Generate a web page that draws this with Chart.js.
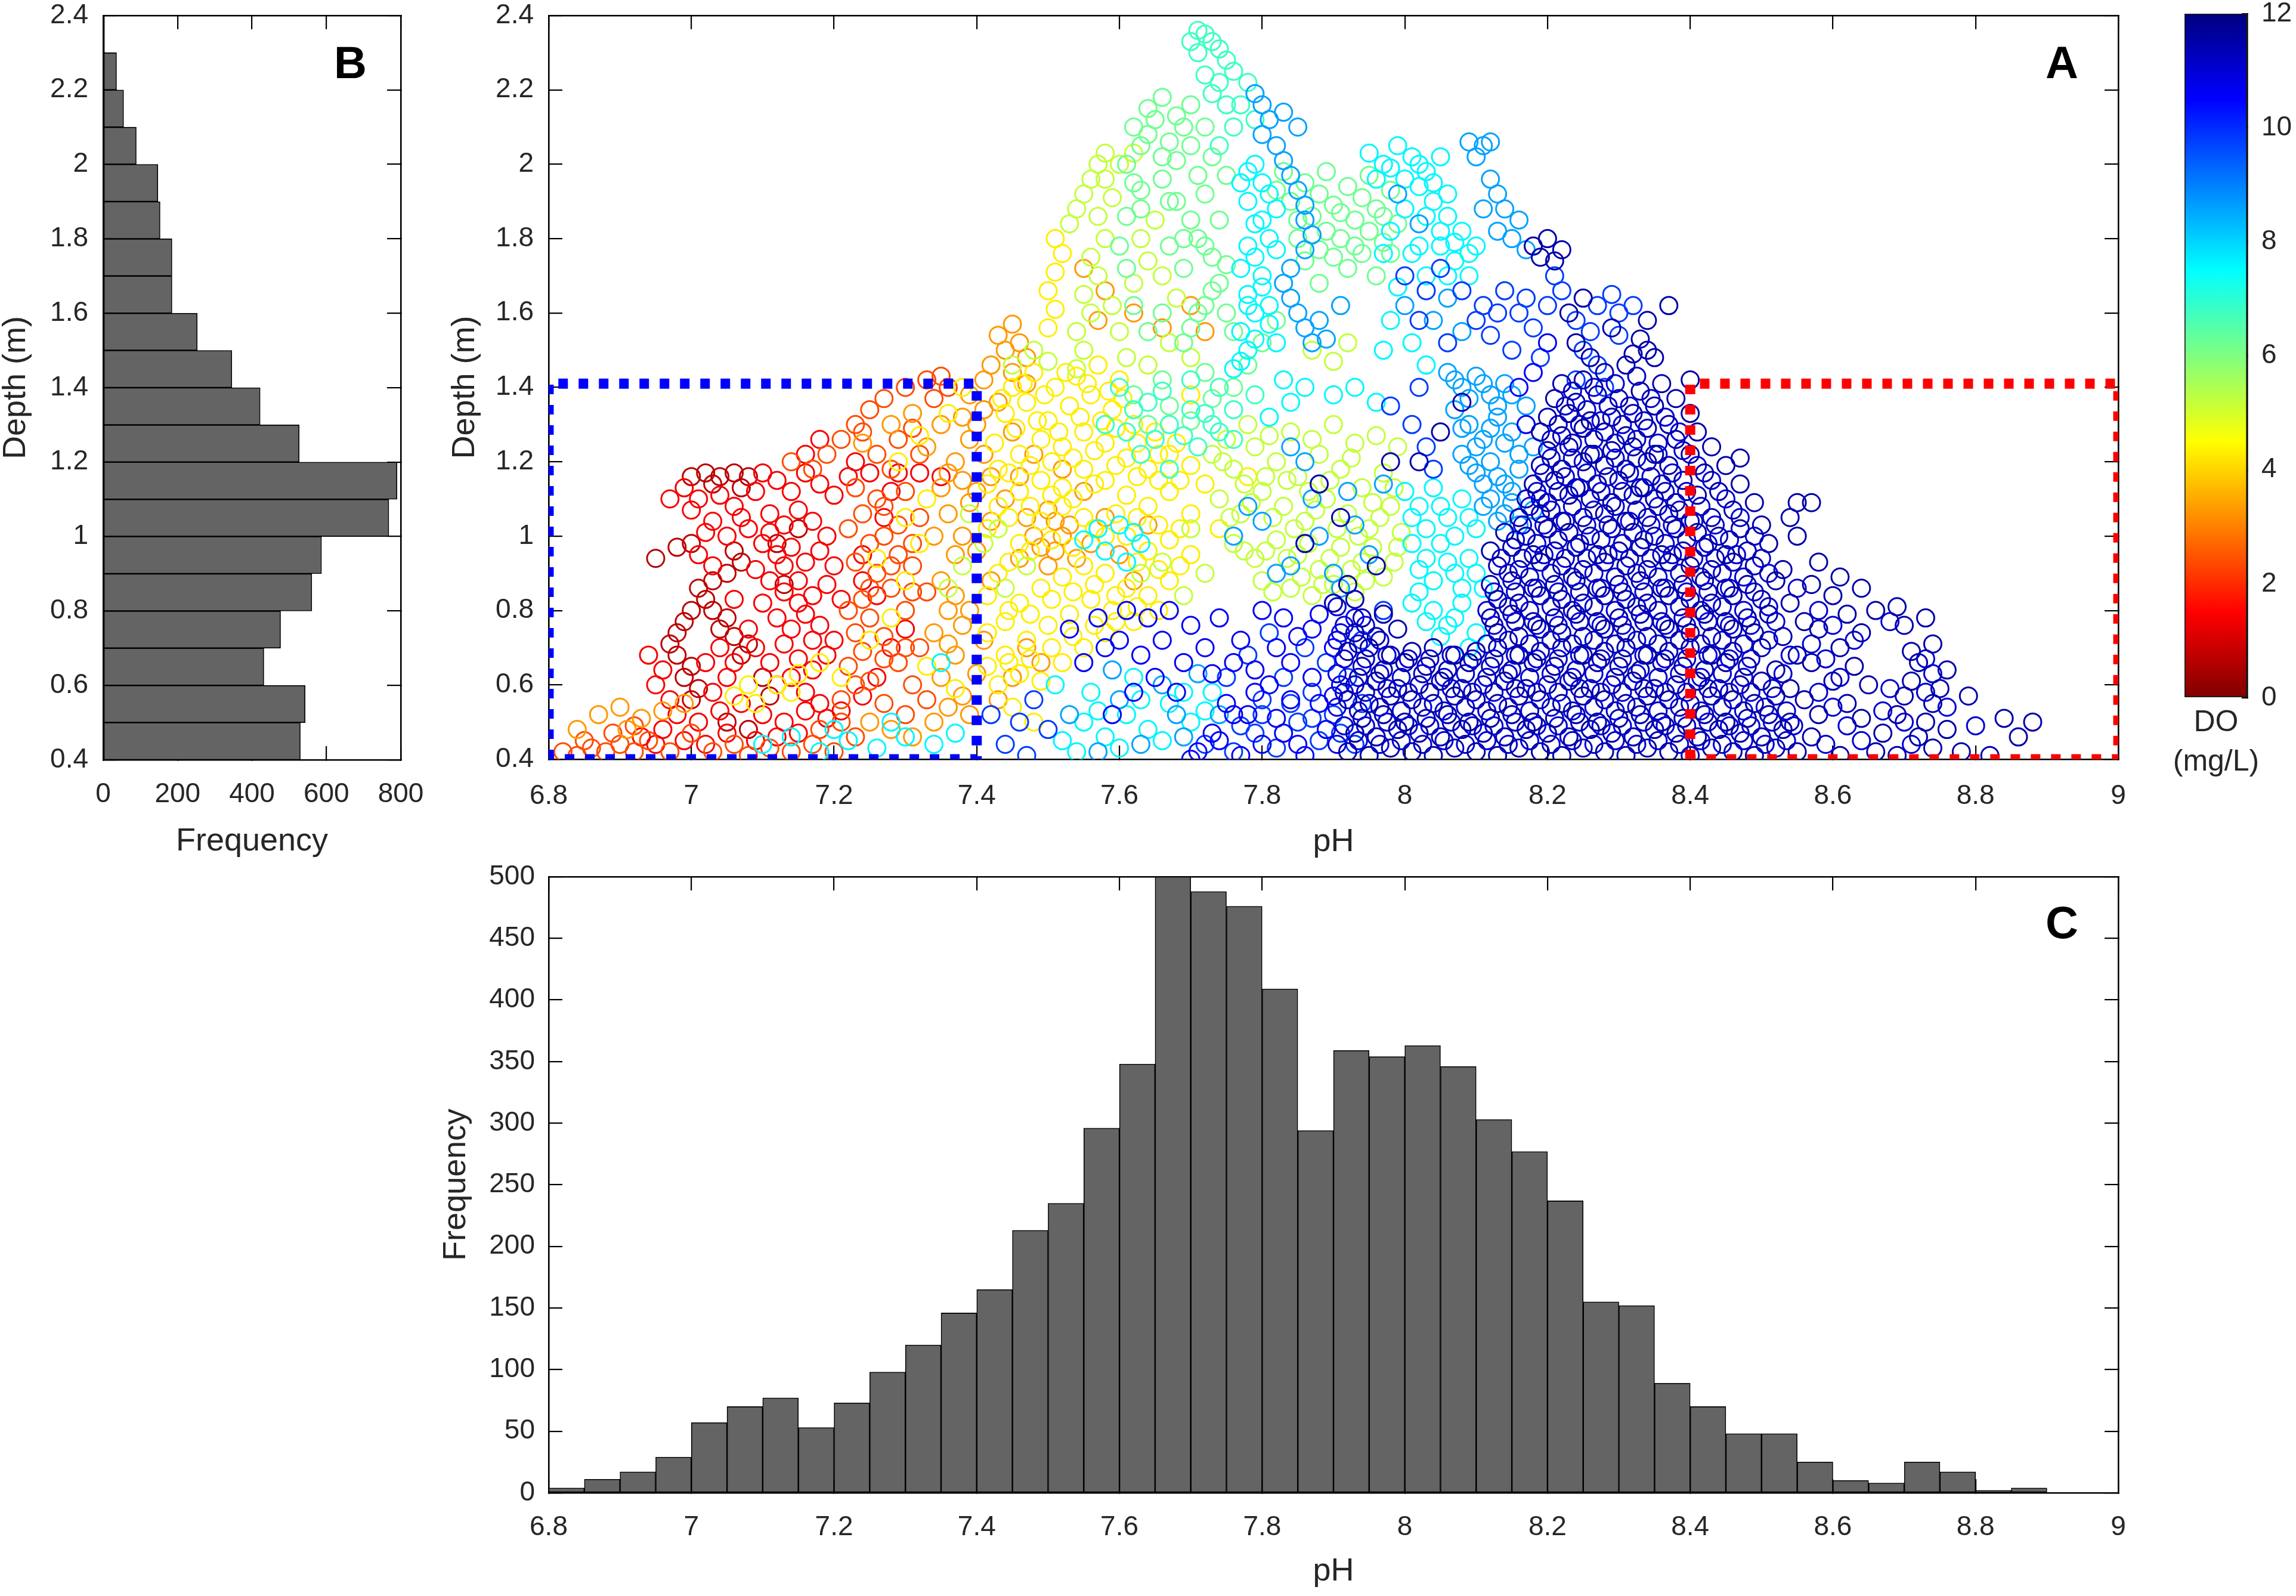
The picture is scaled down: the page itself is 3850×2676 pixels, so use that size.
<!DOCTYPE html>
<html>
<head>
<meta charset="utf-8">
<script src="https://cdn.jsdelivr.net/npm/chart.js@4.4.1/dist/chart.umd.min.js"></script>
<style>
html,body{margin:0;padding:0;background:#fff;width:3850px;height:2676px;overflow:hidden;position:relative;}
canvas{position:absolute;}
.lbl{position:absolute;font-family:"Liberation Sans",Arial,Helvetica,sans-serif;color:#000;line-height:1;white-space:nowrap;}
</style>
</head>
<body>
<canvas id="cB" width="740" height="1460" style="left:-20px;top:0px"></canvas>
<canvas id="cA" width="2900" height="1460" style="left:700px;top:0px"></canvas>
<canvas id="cBar" width="187" height="1200" style="left:3663px;top:0px"></canvas>
<canvas id="cC" width="2900" height="1236" style="left:700px;top:1440px"></canvas>
<div class="lbl" style="left:3430px;top:67px;font-size:76px;font-weight:bold;">A</div>
<div class="lbl" style="left:560px;top:67px;font-size:76px;font-weight:bold;">B</div>
<div class="lbl" style="left:3430px;top:1509px;font-size:76px;font-weight:bold;">C</div>
<div class="lbl" style="left:3566px;width:300px;text-align:center;top:1184px;font-size:50px;color:#262626;">DO</div>
<div class="lbl" style="left:3566px;width:300px;text-align:center;top:1250px;font-size:50px;color:#262626;">(mg/L)</div>
<script>
// ---------------- DATA ----------------
const phTicks = [6.8, 7.0, 7.2, 7.4, 7.6, 7.8, 8.0, 8.2, 8.4, 8.6, 8.8, 9.0];
const phTickLabels = ['6.8', '7', '7.2', '7.4', '7.6', '7.8', '8', '8.2', '8.4', '8.6', '8.8', '9'];
const depthTicks = [0.4, 0.6, 0.8, 1.0, 1.2, 1.4, 1.6, 1.8, 2.0, 2.2, 2.4];
const depthTickLabels = ['0.4', '0.6', '0.8', '1', '1.2', '1.4', '1.6', '1.8', '2', '2.2', '2.4'];
const freqBTicks = [0, 200, 400, 600, 800];
const freqBTickLabels = ['0', '200', '400', '600', '800'];
const freqCTicks = [0, 50, 100, 150, 200, 250, 300, 350, 400, 450, 500];
const freqCTickLabels = ['0', '50', '100', '150', '200', '250', '300', '350', '400', '450', '500'];
const doTicks = [0, 2, 4, 6, 8, 10, 12];
const doTickLabels = ['0', '2', '4', '6', '8', '10', '12'];

// Panel B: depth histogram (bin lower edges, width 0.1 m)
const depthBinLeft = [0.4, 0.5, 0.6, 0.7, 0.8, 0.9, 1.0, 1.1, 1.2, 1.3, 1.4, 1.5, 1.6, 1.7, 1.8, 1.9, 2.0, 2.1, 2.2, 2.3];
const depthFreq = [530, 543, 432, 477, 561, 587, 768, 790, 527, 422, 346, 253, 185, 185, 153, 147, 89, 55, 36, 4];

// Panel C: pH histogram (bin lower edges, width 0.05)
const phBinLeft = [6.80, 6.85, 6.90, 6.95, 7.00, 7.05, 7.10, 7.15, 7.20, 7.25, 7.30, 7.35, 7.40, 7.45, 7.50, 7.55, 7.60, 7.65, 7.70, 7.75, 7.80, 7.85,
  7.90, 7.95, 8.00, 8.05, 8.10, 8.15, 8.20, 8.25, 8.30, 8.35, 8.40, 8.45, 8.50, 8.55, 8.60, 8.65, 8.70, 8.75, 8.80, 8.85, 8.90, 8.95];
const phFreq = [4, 11, 17, 29, 57, 70, 77, 53, 73, 98, 120, 146, 165, 213, 235, 296, 348, 500, 488, 476, 409, 294,
  359, 354, 363, 346, 303, 277, 237, 155, 152, 89, 70, 48, 48, 25, 10, 8, 25, 17, 2, 4, 0, 0];

// Panel A: scatter (pH, depth) pairs grouped by DO (mg/L)
const doClasses = [0.7, 1.4, 2.4, 3.3, 4.3, 5.2, 6.2, 6.8, 7.6, 8.6, 9.8, 10.6, 11.0, 11.5];
const ptsDO07 = [7.00,1.16, 7.02,1.17, 7.04,1.16, 7.06,1.17, 7.08,1.16, 7.03,1.14, 7.07,1.13,
  6.95,0.94, 6.98,0.97, 7.00,0.98, 7.06,0.96, 7.07,0.93, 7.05,0.90, 7.03,0.88, 7.01,0.86, 7.02,0.83, 7.00,0.80, 6.99,0.77, 6.98,0.74, 6.97,0.71, 6.98,0.68, 7.00,0.65, 6.99,0.62, 7.01,0.59, 7.00,0.56,
  7.03,0.80, 7.05,0.78, 7.04,0.75, 7.06,0.73, 7.08,0.71, 7.07,0.68, 7.10,0.62, 7.12,0.60, 7.11,0.57, 7.05,0.50, 7.08,0.48, 7.13,0.87, 7.12,0.98, 7.15,1.02];
const ptsDO14 = [6.97,1.10, 6.99,1.13, 7.01,1.10, 7.04,1.11, 7.06,1.08, 7.09,1.12, 7.10,1.17, 7.12,1.15, 7.14,1.12, 7.16,1.17, 7.18,1.14, 7.20,1.11, 7.22,1.16, 7.11,1.06, 7.13,1.03, 7.15,1.07, 7.17,1.04, 7.19,1.00, 7.08,1.02, 7.03,1.04, 7.05,1.00,
  7.10,0.98, 7.12,0.95, 7.14,0.97, 7.16,0.93, 7.18,0.96, 7.20,0.92, 7.09,0.91, 7.11,0.88, 7.13,0.85, 7.15,0.88, 7.17,0.84, 7.19,0.87, 7.21,0.83, 7.10,0.82, 7.12,0.78, 7.14,0.75, 7.16,0.79, 7.18,0.76, 7.20,0.72, 7.13,0.71, 7.15,0.67, 7.17,0.64, 7.19,0.68, 7.08,0.75, 7.06,0.83, 7.04,0.70, 7.02,0.66, 7.05,0.62, 7.03,0.58,
  6.98,0.52, 7.01,0.50, 7.04,0.53, 7.07,0.55, 7.10,0.52, 7.13,0.50, 7.16,0.53, 7.19,0.51, 7.12,0.46, 7.15,0.47, 7.09,0.45, 6.93,0.46, 6.96,0.48, 6.95,0.44, 6.99,0.45, 7.02,0.44, 7.05,0.47, 6.97,0.56, 6.95,0.60, 6.96,0.64, 6.94,0.68,
  7.24,0.88, 7.26,0.84, 7.23,1.20, 7.25,1.17, 7.28,1.12, 7.27,1.05, 7.24,0.95, 7.30,0.75, 7.28,0.70, 7.26,0.62, 7.24,0.57, 7.29,1.17, 7.32,1.17, 7.35,1.16, 7.18,1.26, 7.16,1.22,
  7.00,1.07, 7.02,1.01, 7.07,1.05, 7.11,1.01, 7.13,0.92, 7.15,0.82, 7.17,0.72, 7.11,0.66, 7.09,0.70, 7.06,0.66, 7.14,0.62, 7.16,0.58, 7.18,0.55, 7.21,0.53, 7.03,0.92, 7.01,0.95];
const ptsDO24 = [6.82,0.42, 6.84,0.41, 6.86,0.43, 6.85,0.45, 6.88,0.42, 6.90,0.44, 6.89,0.47, 6.92,0.42, 6.94,0.45, 6.92,0.49, 6.97,0.42, 7.00,0.47, 7.03,0.42, 7.06,0.44, 7.08,0.41, 7.11,0.43, 7.14,0.42, 7.17,0.44, 7.20,0.42, 7.18,0.48, 7.21,0.50, 7.23,0.46,
  7.21,0.56, 7.23,0.60, 7.22,0.65, 7.24,0.69, 7.23,0.74, 7.25,0.78, 7.22,0.80, 7.24,0.83, 7.26,0.90, 7.23,0.93, 7.25,0.98, 7.22,1.02, 7.24,1.06, 7.26,1.10, 7.23,1.13, 7.27,1.00, 7.29,0.95, 7.28,0.86, 7.30,0.80, 7.27,0.73, 7.29,0.66, 7.31,0.60, 7.27,0.55, 7.30,0.52, 7.33,0.56, 7.32,0.70, 7.33,0.85, 7.31,0.92, 7.32,1.05, 7.30,1.12, 7.28,1.18, 7.26,1.22, 7.29,1.26,
  7.19,1.22, 7.21,1.26, 7.23,1.30, 7.25,1.34, 7.27,1.37, 7.30,1.40, 7.33,1.42, 7.35,1.43, 7.36,1.40, 7.34,1.37, 7.14,1.20, 7.17,1.18,
  7.25,0.61, 7.27,0.67, 7.25,0.86, 7.28,0.92, 7.27,1.08, 7.29,1.03, 7.31,0.98, 7.30,0.70, 7.31,0.85, 7.32,1.22, 7.24,1.28, 7.31,1.29];
const ptsDO33 = [6.87,0.52, 6.90,0.54, 6.93,0.51, 6.96,0.53, 6.99,0.55, 6.91,0.48, 6.84,0.48,
  7.25,0.50, 7.28,0.48, 7.31,0.46, 7.34,0.50, 7.36,0.54, 7.35,0.62, 7.37,0.68, 7.34,0.74, 7.36,0.80, 7.35,0.88, 7.37,0.95, 7.34,1.00, 7.36,1.06, 7.35,1.13, 7.37,1.20, 7.33,1.24, 7.35,1.30, 7.31,1.33, 7.28,1.30, 7.24,1.25, 7.39,1.26, 7.38,1.32, 7.39,1.38, 7.40,1.30, 7.41,1.22, 7.40,1.12, 7.42,1.04, 7.40,0.96, 7.42,0.88, 7.39,0.80, 7.41,0.72, 7.40,0.63, 7.43,0.56, 7.39,0.52,
  7.41,1.42, 7.42,1.46, 7.44,1.50, 7.43,1.54, 7.45,1.57, 7.46,1.52, 7.47,1.48, 7.45,1.44, 7.47,1.41,
  7.50,0.92, 7.51,0.96, 7.52,1.00, 7.53,1.03, 7.50,1.07, 7.54,0.94, 7.56,0.98, 7.48,1.00, 7.46,0.94,
  7.44,1.10, 7.46,1.16, 7.48,1.22, 7.45,1.28, 7.52,1.18, 7.55,1.12, 7.58,1.05, 7.60,0.95, 7.62,0.88, 7.47,0.70, 7.45,0.62, 7.49,0.66, 7.64,1.03,
  7.55,1.72, 7.58,1.66, 7.62,1.60, 7.66,1.56, 7.70,1.62, 7.72,1.55, 7.57,1.58,
  7.38,0.57, 7.36,0.71, 7.38,0.76, 7.37,0.84, 7.38,1.00, 7.39,1.09, 7.36,1.17, 7.38,1.15, 7.42,1.16, 7.43,1.36, 7.41,1.34, 7.49,0.97, 7.51,1.04, 7.47,1.05];
const ptsDO43 = [7.43,0.60, 7.46,0.63, 7.49,0.61, 7.52,0.66, 7.55,0.70, 7.58,0.74, 7.44,0.68, 7.47,0.72, 7.50,0.76, 7.53,0.79, 7.56,0.83, 7.59,0.80, 7.62,0.77, 7.44,0.77, 7.46,0.82, 7.49,0.86, 7.52,0.89, 7.55,0.92, 7.58,0.90, 7.61,0.86, 7.64,0.84, 7.67,0.88,
  7.43,0.90, 7.46,0.98, 7.49,1.04, 7.52,1.08, 7.55,1.05, 7.58,1.00, 7.61,1.00, 7.64,0.96, 7.67,0.99, 7.70,0.95, 7.43,1.08, 7.46,1.12, 7.49,1.15, 7.52,1.13, 7.55,1.18, 7.58,1.15, 7.61,1.11, 7.64,1.08, 7.67,1.12, 7.70,1.06,
  7.43,1.18, 7.46,1.22, 7.49,1.26, 7.52,1.24, 7.55,1.28, 7.58,1.25, 7.61,1.21, 7.64,1.18, 7.67,1.22, 7.70,1.19, 7.44,1.33, 7.47,1.36, 7.50,1.31, 7.53,1.35, 7.56,1.38, 7.59,1.34, 7.62,1.30, 7.65,1.28, 7.45,1.40, 7.48,1.44, 7.51,1.40, 7.54,1.43, 7.57,1.46, 7.60,1.42,
  7.50,1.56, 7.51,1.61, 7.50,1.66, 7.51,1.71, 7.52,1.76, 7.51,1.80,
  7.12,0.60, 7.15,0.63, 7.18,0.66, 7.21,0.62, 7.14,0.58, 7.25,0.72, 7.28,0.78, 7.30,0.88, 7.26,0.94, 7.32,0.98, 7.30,1.05, 7.33,1.10, 7.29,1.20, 7.32,1.27, 7.36,1.33, 7.38,1.40, 7.37,0.59, 7.33,0.65, 7.06,0.57, 7.09,0.55, 7.08,0.60,
  7.68,1.25, 7.72,1.14, 7.74,1.02, 7.78,1.16, 7.70,1.38, 7.45,0.54, 7.48,0.50,
  7.415,0.65, 7.445,0.66, 7.475,0.67, 7.505,0.70, 7.535,0.73, 7.565,0.76, 7.595,0.77, 7.625,0.81, 7.655,0.80, 7.415,0.74, 7.445,0.80, 7.475,0.79, 7.505,0.83, 7.535,0.85, 7.565,0.87, 7.595,0.84, 7.625,0.93, 7.655,0.91, 7.685,0.92,
  7.415,0.84, 7.445,0.93, 7.475,0.96, 7.505,0.99, 7.535,0.97, 7.565,1.02, 7.595,1.06, 7.625,1.05, 7.655,1.03, 7.685,1.02, 7.415,1.02, 7.445,1.05, 7.475,1.08, 7.505,1.11, 7.535,1.10, 7.565,1.14, 7.595,1.19, 7.625,1.16, 7.655,1.15, 7.685,1.15,
  7.415,1.14, 7.445,1.17, 7.475,1.19, 7.505,1.20, 7.535,1.21, 7.565,1.23, 7.595,1.29, 7.625,1.25, 7.655,1.22, 7.425,1.25, 7.455,1.29, 7.485,1.31, 7.515,1.28, 7.545,1.32, 7.575,1.31, 7.605,1.37, 7.435,1.37, 7.465,1.41, 7.495,1.38, 7.525,1.44, 7.555,1.41, 7.585,1.39];
const ptsDO52 = [7.54,1.45, 7.55,1.50, 7.54,1.55, 7.56,1.60, 7.55,1.65, 7.57,1.70, 7.56,1.75, 7.58,1.80, 7.57,1.86, 7.59,1.91, 7.58,1.96, 7.60,2.00, 7.62,2.03, 7.59,1.62, 7.60,1.55, 7.61,1.48, 7.53,1.84, 7.54,1.88, 7.55,1.92, 7.56,1.96, 7.57,2.00, 7.58,2.03,
  7.62,1.68, 7.64,1.74, 7.63,1.80, 7.65,1.85, 7.66,1.70, 7.68,1.64, 7.67,1.52, 7.64,1.46, 7.70,1.48,
  7.36,0.86, 7.38,0.92, 7.41,0.98, 7.43,1.02, 7.39,1.06, 7.44,0.86, 7.47,0.92, 7.45,1.46, 7.48,1.50, 7.50,1.47,
  7.73,1.22, 7.76,1.18, 7.79,1.24, 7.82,1.20, 7.85,1.16, 7.88,1.22, 7.91,1.18, 7.94,1.13, 7.97,1.17, 7.74,1.10, 7.77,1.06, 7.80,1.12, 7.83,1.08, 7.86,1.04, 7.89,1.10, 7.92,1.06, 7.95,1.02, 7.98,1.08,
  7.76,0.98, 7.79,0.94, 7.82,0.99, 7.85,0.95, 7.88,0.91, 7.91,0.97, 7.94,0.93, 7.97,0.89, 7.80,0.88, 7.84,0.86, 7.87,0.84, 7.90,0.87, 7.93,0.85, 7.78,1.30, 7.84,1.28, 7.90,1.30, 7.96,1.27, 7.99,0.97,
  7.87,1.50, 7.90,1.47, 7.92,1.52,
  7.745,1.20, 7.775,1.14, 7.805,1.16, 7.835,1.15, 7.865,1.12, 7.895,1.15, 7.925,1.21, 7.955,1.09, 7.985,1.13, 7.755,1.05, 7.785,1.09, 7.815,1.05, 7.845,1.02, 7.875,1.07, 7.905,1.02, 7.935,1.00, 7.965,1.05, 7.995,1.01,
  7.775,0.96, 7.805,0.96, 7.835,0.94, 7.865,0.98, 7.895,0.94, 7.925,0.91, 7.955,0.97, 7.985,0.93, 7.815,0.85, 7.855,0.89, 7.885,0.87, 7.945,0.88, 7.75,1.26, 7.81,1.27, 7.87,1.26, 7.93,1.25, 7.99,1.24, 7.70,1.02, 7.72,0.90, 7.69,0.84, 7.66,0.93, 7.63,0.90];
const ptsDO62 = [7.61,2.00, 7.63,2.05, 7.62,2.10, 7.64,2.15, 7.66,2.18, 7.65,2.12, 7.67,2.06, 7.68,2.01, 7.69,2.10, 7.70,2.16, 7.66,1.96, 7.63,1.93, 7.68,1.90, 7.70,1.85, 7.72,1.92, 7.71,1.80, 7.73,1.75, 7.69,1.72, 7.74,1.68, 7.72,1.62, 7.70,1.56,
  7.83,1.98, 7.86,1.95, 7.89,1.98, 7.92,1.94, 7.95,1.97, 7.98,1.93, 7.84,1.90, 7.87,1.86, 7.90,1.89, 7.93,1.85, 7.96,1.88, 7.99,1.84, 7.85,1.80, 7.88,1.77, 7.91,1.80, 7.94,1.76, 7.97,1.79, 7.92,1.72, 7.96,1.70,
  7.64,1.30, 7.67,1.35, 7.70,1.31, 7.73,1.37, 7.66,1.42, 7.72,1.44, 7.76,1.40, 7.62,1.38, 7.78,1.46, 7.80,1.52, 7.76,1.55, 7.82,1.58,
  7.62,1.95, 7.64,2.08, 7.66,2.02, 7.68,2.13, 7.70,2.05, 7.72,2.10, 7.71,1.97, 7.73,2.02, 7.75,1.97, 7.74,1.85, 7.72,1.78, 7.75,1.73, 7.73,1.66, 7.71,1.60, 7.75,1.60, 7.69,1.52, 7.66,1.60, 7.64,1.55, 7.62,1.62, 7.61,1.72, 7.60,1.78, 7.61,1.86, 7.63,1.88, 7.67,1.78, 7.69,1.80, 7.67,1.90,
  7.82,1.93, 7.85,1.85, 7.88,1.92, 7.91,1.87, 7.94,1.91, 7.97,1.86, 7.89,1.82, 7.93,1.78, 7.95,1.82, 7.98,1.76, 7.86,1.74, 7.90,1.75, 7.88,1.68];
const ptsDO68 = [7.70,2.33, 7.71,2.36, 7.72,2.35, 7.73,2.33, 7.71,2.30, 7.74,2.31, 7.75,2.28, 7.76,2.25, 7.78,2.22, 7.77,2.16, 7.79,2.12, 7.74,2.22, 7.72,2.24, 7.76,2.10, 7.74,2.05, 7.75,2.16, 7.73,2.19,
  7.62,1.34, 7.65,1.26, 7.69,1.27, 7.72,1.33, 7.74,1.28,
  7.58,1.30, 7.61,1.28, 7.64,1.36, 7.67,1.30, 7.70,1.34, 7.73,1.30, 7.76,1.34, 7.60,1.40, 7.66,1.39, 7.70,1.42, 7.74,1.40, 7.79,1.38, 7.63,1.22, 7.67,1.18, 7.71,1.24, 7.76,1.26];
const ptsDO76 = [7.76,1.45, 7.78,1.50, 7.77,1.55, 7.79,1.60, 7.78,1.65, 7.80,1.70, 7.79,1.75, 7.81,1.80, 7.80,1.85, 7.78,1.90, 7.80,1.95, 7.79,2.00, 7.77,1.72, 7.81,1.62, 7.82,1.52, 7.82,1.88,
  7.81,1.32, 7.84,1.36, 7.86,1.40, 7.83,1.42,
  7.95,2.03, 7.97,2.00, 7.99,2.05, 8.01,2.02, 8.03,1.98, 8.05,2.02, 8.02,1.94, 8.04,1.90, 8.06,1.86, 8.08,1.82, 8.05,1.78, 8.07,1.74, 8.09,1.70, 8.10,1.78, 8.00,1.88, 7.98,1.82, 8.01,1.76, 8.03,1.70, 7.99,1.67,
  8.00,1.12, 8.02,1.08, 8.04,1.13, 8.06,1.05, 8.08,1.10, 8.10,1.02, 8.01,0.98, 8.03,0.94, 8.05,0.98, 8.07,0.90, 8.09,0.94, 8.11,0.86, 8.02,0.85, 8.04,0.80, 8.06,0.76, 8.08,0.82, 8.10,0.74,
  7.10,0.44, 7.14,0.46, 7.18,0.42, 7.22,0.45, 7.26,0.43, 7.30,0.46, 7.34,0.44, 7.37,0.47, 7.28,0.50, 7.35,0.66, 7.20,0.48,
  7.52,0.45, 7.55,0.50, 7.58,0.46, 7.61,0.52, 7.64,0.48, 7.67,0.55, 7.70,0.50, 7.73,0.58, 7.56,0.58, 7.62,0.62,
  7.93,1.40, 7.96,1.36, 7.90,1.38, 7.98,1.58, 8.01,1.52, 8.03,1.46, 7.97,1.50, 7.58,0.96, 7.61,0.93, 7.63,0.98,
  7.77,1.47, 7.79,1.53, 7.81,1.57, 7.78,1.62, 7.80,1.67, 7.78,1.78, 7.82,1.77, 7.79,1.84, 7.81,1.92, 7.77,1.95, 7.78,1.98,
  7.96,1.96, 7.98,1.99, 8.00,1.96, 8.02,2.00, 8.04,1.95, 8.06,1.92, 8.03,1.86, 8.05,1.82, 8.07,1.79, 8.09,1.76, 8.06,1.70, 8.02,1.78, 7.97,1.76,
  8.01,1.05, 8.03,1.02, 8.05,1.08, 8.07,1.00, 8.09,1.05, 8.02,0.91, 8.04,0.88, 8.06,0.93, 8.08,0.86, 8.10,0.90, 8.03,0.77, 8.05,0.73, 8.07,0.78, 8.09,0.70, 8.01,0.82,
  7.54,0.42, 7.57,0.53, 7.60,0.43, 7.63,0.56, 7.66,0.45, 7.69,0.58, 7.72,0.53, 7.51,0.60, 7.55,0.99, 7.57,1.02, 7.60,1.03, 7.62,1.01];
const ptsDO86 = [7.79,2.19, 7.80,2.16, 7.81,2.12, 7.80,2.08, 7.82,2.05, 7.83,2.01, 7.84,1.97, 7.85,1.93, 7.86,1.89, 7.86,1.85, 7.87,1.81, 7.86,1.77, 7.84,1.72, 7.83,1.68, 7.84,1.64, 7.85,1.60, 7.86,1.56, 7.87,1.52, 7.83,2.14, 7.85,2.10,
  8.09,2.06, 8.11,2.05, 8.12,2.06, 8.10,2.02, 8.12,1.96, 8.13,1.92, 8.14,1.88, 8.16,1.85, 8.15,1.80, 8.17,1.77, 8.11,1.88, 8.13,1.82,
  8.06,1.44, 8.08,1.40, 8.10,1.43, 8.12,1.38, 8.14,1.41, 8.07,1.34, 8.09,1.30, 8.11,1.26, 8.13,1.32, 8.15,1.28, 8.08,1.22, 8.10,1.17, 8.12,1.20, 8.14,1.14, 8.16,1.18, 8.11,1.08, 8.13,1.04, 8.15,1.09, 8.17,1.00, 8.18,1.24, 8.17,1.35,
  7.76,1.00, 7.80,1.04, 7.84,0.92, 7.88,1.00, 7.92,1.12, 7.86,1.20, 7.95,0.95, 7.90,0.90,
  7.53,0.52, 7.57,0.42, 7.60,0.56, 7.63,0.44, 7.66,0.60, 7.69,0.46, 7.71,0.63, 7.74,0.52, 7.68,0.52, 7.59,0.64,
  8.00,1.62, 8.04,1.58, 8.06,1.64, 8.08,1.55, 7.99,1.92, 8.02,1.84,
  8.07,1.42, 8.09,1.37, 8.11,1.41, 8.13,1.35, 8.15,1.38, 8.08,1.29, 8.10,1.24, 8.12,1.29, 8.14,1.25, 8.16,1.22, 8.09,1.19, 8.11,1.14, 8.13,1.16, 8.15,1.12, 8.12,1.10, 8.14,1.06, 8.16,1.03, 8.18,1.07,
  7.78,1.08, 7.82,0.90, 7.87,1.10, 7.93,1.03, 7.97,1.14, 7.84,1.24, 7.91,0.86, 7.88,1.58, 7.91,1.62, 7.89,1.53];
const ptsDO98 = [8.00,1.70, 8.03,1.66, 8.05,1.72, 8.08,1.66, 8.11,1.62, 8.14,1.66, 8.16,1.60, 8.12,1.54, 8.15,1.50, 8.18,1.56, 8.20,1.62, 8.19,1.48, 8.21,1.70,
  8.24,1.58, 8.26,1.55, 8.25,1.50, 8.27,1.46, 8.24,1.42, 8.28,1.40, 8.30,1.60, 8.32,1.62, 8.29,1.65,
  7.76,0.42, 7.79,0.47, 7.82,0.43, 7.85,0.50, 7.80,0.56, 7.83,0.62, 7.87,0.58, 7.90,0.52, 7.78,0.68, 7.81,0.74, 7.86,0.70, 7.89,0.66, 7.92,0.62, 7.94,0.72, 7.97,0.80, 7.75,0.62, 7.72,0.44, 7.88,0.45, 7.93,0.44,
  7.44,0.44, 7.46,0.50, 7.48,0.56, 7.50,0.48, 7.47,0.41, 7.42,0.52,
  8.01,1.30, 8.03,1.24, 8.02,1.40, 7.98,1.35, 8.04,1.18,
  7.77,0.49, 7.80,0.52, 7.84,0.55, 7.87,0.51, 7.91,0.47, 7.94,0.55,
  8.02,1.58, 8.06,1.52, 8.10,1.58, 8.13,1.60, 8.17,1.64, 8.22,1.66, 8.27,1.62, 8.30,1.54];
const ptsDO106 = [7.70,0.40, 7.73,0.47, 7.76,0.52, 7.79,0.58, 7.82,0.51, 7.85,0.44, 7.88,0.55, 7.91,0.60, 7.84,0.66, 7.87,0.75, 7.90,0.70, 7.93,0.78, 7.77,0.72, 7.80,0.80, 7.83,0.78, 7.74,0.78, 7.72,0.70, 7.69,0.66, 7.66,0.72, 7.63,0.68, 7.60,0.72, 7.58,0.70, 7.57,0.78, 7.55,0.66, 7.53,0.75,
  8.16,1.40, 8.18,1.44, 8.17,1.30, 8.19,1.10, 8.20,1.52,
  7.71,0.42, 7.74,0.45, 7.77,0.41, 7.80,0.44, 7.83,0.47, 7.86,0.41, 7.89,0.48, 7.75,0.55, 7.78,0.52, 7.81,0.60, 7.84,0.56, 7.87,0.62, 7.90,0.57, 7.73,0.63, 7.76,0.66, 7.79,0.64, 7.82,0.70, 7.85,0.73, 7.88,0.79, 7.91,0.74,
  7.68,0.58, 7.65,0.62, 7.62,0.58, 7.59,0.52, 7.64,0.78, 7.67,0.80, 7.70,0.76, 7.61,0.80];
const ptsDO110 = [
  7.905,0.44, 7.935,0.45, 7.965,0.44, 7.995,0.45, 8.025,0.44, 8.055,0.45, 8.085,0.44, 8.115,0.45, 8.145,0.44, 8.175,0.45, 8.205,0.44, 8.235,0.45, 8.265,0.44, 8.295,0.45, 8.325,0.44, 8.355,0.45, 8.385,0.44, 8.415,0.45, 8.445,0.44, 8.475,0.45, 8.505,0.44, 8.535,0.45, 8.59,0.44, 8.64,0.45, 8.71,0.44,
  7.915,0.49, 7.945,0.49, 7.975,0.50, 8.005,0.49, 8.035,0.49, 8.065,0.50, 8.095,0.49, 8.125,0.49, 8.155,0.50, 8.185,0.49, 8.215,0.49, 8.245,0.50, 8.275,0.49, 8.305,0.49, 8.335,0.50, 8.365,0.49, 8.395,0.49, 8.425,0.50, 8.455,0.49, 8.485,0.49, 8.515,0.50, 8.545,0.49, 8.62,0.49, 8.70,0.50, 8.80,0.49,
  7.905,0.54, 7.935,0.53, 7.965,0.54, 7.995,0.53, 8.025,0.54, 8.055,0.53, 8.085,0.54, 8.115,0.53, 8.145,0.54, 8.175,0.53, 8.205,0.54, 8.235,0.53, 8.265,0.54, 8.295,0.53, 8.325,0.54, 8.355,0.53, 8.385,0.54, 8.415,0.53, 8.445,0.54, 8.475,0.53, 8.505,0.54, 8.535,0.53, 8.60,0.54, 8.67,0.53, 8.76,0.54,
  7.915,0.58, 7.945,0.58, 7.975,0.59, 8.005,0.58, 8.035,0.58, 8.065,0.59, 8.095,0.58, 8.125,0.58, 8.155,0.59, 8.185,0.58, 8.215,0.58, 8.245,0.59, 8.275,0.58, 8.305,0.58, 8.335,0.59, 8.365,0.58, 8.395,0.58, 8.425,0.59, 8.455,0.58, 8.485,0.58, 8.515,0.59, 8.58,0.58, 8.68,0.59, 8.73,0.58,
  7.905,0.63, 7.935,0.62, 7.965,0.63, 7.995,0.62, 8.025,0.63, 8.055,0.62, 8.085,0.63, 8.115,0.62, 8.145,0.63, 8.175,0.62, 8.205,0.63, 8.235,0.62, 8.265,0.63, 8.295,0.62, 8.325,0.63, 8.355,0.62, 8.385,0.63, 8.415,0.62, 8.445,0.63, 8.475,0.62, 8.53,0.63, 8.61,0.62, 8.74,0.63,
  7.915,0.67, 7.945,0.67, 7.975,0.68, 8.005,0.67, 8.035,0.67, 8.065,0.68, 8.095,0.67, 8.125,0.67, 8.155,0.68, 8.185,0.67, 8.215,0.67, 8.245,0.68, 8.275,0.67, 8.305,0.67, 8.335,0.68, 8.365,0.67, 8.395,0.67, 8.425,0.68, 8.455,0.67, 8.485,0.67, 8.54,0.68, 8.59,0.67, 8.73,0.67,
  7.905,0.72, 7.935,0.71, 7.965,0.72, 8.115,0.71, 8.145,0.72, 8.175,0.71, 8.205,0.72, 8.235,0.71, 8.265,0.72, 8.295,0.71, 8.325,0.72, 8.355,0.71, 8.385,0.72, 8.415,0.71, 8.445,0.72, 8.475,0.71, 8.51,0.72, 8.57,0.71, 8.63,0.72,
  7.915,0.76, 7.945,0.76, 8.125,0.76, 8.155,0.77, 8.185,0.76, 8.215,0.76, 8.245,0.77, 8.275,0.76, 8.305,0.76, 8.335,0.77, 8.365,0.76, 8.395,0.76, 8.425,0.77, 8.455,0.76, 8.485,0.76, 8.52,0.77, 8.60,0.76, 8.68,0.77,
  7.905,0.81, 8.115,0.80, 8.145,0.81, 8.175,0.80, 8.205,0.81, 8.235,0.80, 8.265,0.81, 8.295,0.80, 8.325,0.81, 8.355,0.80, 8.385,0.81, 8.415,0.80, 8.445,0.81, 8.475,0.80, 8.51,0.81, 8.58,0.80,
  8.125,0.85, 8.155,0.85, 8.185,0.86, 8.215,0.85, 8.245,0.85, 8.275,0.86, 8.305,0.85, 8.335,0.85, 8.365,0.86, 8.395,0.85, 8.425,0.85, 8.455,0.86, 8.49,0.85, 8.55,0.86,
  8.145,0.90, 8.175,0.89, 8.205,0.90, 8.235,0.89, 8.265,0.90, 8.295,0.89, 8.325,0.90, 8.355,0.89, 8.385,0.90, 8.415,0.89, 8.445,0.90, 8.475,0.89, 8.51,0.90,
  8.135,0.94, 8.165,0.94, 8.195,0.95, 8.225,0.94, 8.255,0.94, 8.285,0.95, 8.315,0.94, 8.345,0.94, 8.375,0.95, 8.405,0.94, 8.435,0.94, 8.465,0.95, 8.50,0.94,
  8.155,0.99, 8.185,0.98, 8.215,0.99, 8.245,0.98, 8.275,0.99, 8.305,0.98, 8.335,0.99, 8.365,0.98, 8.395,0.99, 8.425,0.98, 8.455,0.99, 8.49,1.00,
  8.165,1.03, 8.195,1.03, 8.225,1.04, 8.255,1.03, 8.285,1.03, 8.315,1.04, 8.345,1.03, 8.375,1.03, 8.405,1.04, 8.435,1.03, 8.47,1.05,
  8.175,1.08, 8.205,1.07, 8.235,1.08, 8.265,1.07, 8.295,1.08, 8.325,1.07, 8.355,1.08, 8.385,1.07, 8.415,1.08, 8.45,1.10,
  8.185,1.12, 8.215,1.12, 8.245,1.13, 8.275,1.12, 8.305,1.12, 8.335,1.13, 8.365,1.12, 8.395,1.12, 8.43,1.15,
  8.195,1.17, 8.225,1.16, 8.255,1.17, 8.285,1.16, 8.315,1.17, 8.345,1.16, 8.375,1.17, 8.41,1.19,
  8.205,1.21, 8.235,1.21, 8.265,1.22, 8.295,1.21, 8.325,1.21, 8.355,1.22, 8.39,1.23,
  8.205,1.26, 8.235,1.25, 8.265,1.26, 8.295,1.25, 8.325,1.26, 8.355,1.25, 8.385,1.28,
  8.215,1.30, 8.245,1.30, 8.275,1.31, 8.305,1.30, 8.335,1.31, 8.365,1.32,
  8.225,1.35, 8.255,1.34, 8.285,1.35, 8.315,1.35, 8.345,1.37,
  8.235,1.39, 8.265,1.40, 8.295,1.41, 8.325,1.43];
const ptsDO115 = [
  7.92,0.42, 7.95,0.41, 7.98,0.43, 8.01,0.42, 8.04,0.41, 8.07,0.43, 8.10,0.42, 8.13,0.41, 8.16,0.43, 8.19,0.42, 8.22,0.41, 8.25,0.43, 8.28,0.42, 8.31,0.41, 8.34,0.43, 8.37,0.42, 8.40,0.41, 8.43,0.43, 8.46,0.42, 8.49,0.41, 8.52,0.43, 8.55,0.42, 8.61,0.41, 8.66,0.42, 8.69,0.41, 8.74,0.43, 8.78,0.42, 8.82,0.41,
  7.93,0.47, 7.96,0.46, 7.99,0.48, 8.02,0.47, 8.05,0.46, 8.08,0.48, 8.11,0.47, 8.14,0.46, 8.17,0.48, 8.20,0.47, 8.23,0.46, 8.26,0.48, 8.29,0.47, 8.32,0.46, 8.35,0.48, 8.38,0.47, 8.41,0.46, 8.44,0.48, 8.47,0.47, 8.50,0.46, 8.53,0.48, 8.57,0.46, 8.67,0.47, 8.72,0.46, 8.76,0.48, 8.86,0.46,
  7.94,0.51, 7.97,0.52, 8.00,0.50, 8.03,0.51, 8.06,0.52, 8.09,0.50, 8.12,0.51, 8.15,0.52, 8.18,0.50, 8.21,0.51, 8.24,0.52, 8.27,0.50, 8.30,0.51, 8.33,0.52, 8.36,0.50, 8.39,0.51, 8.42,0.52, 8.45,0.50, 8.48,0.51, 8.51,0.52, 8.54,0.50, 8.58,0.52, 8.64,0.51, 8.69,0.52, 8.73,0.50, 8.84,0.51, 8.88,0.50,
  7.92,0.56, 7.95,0.55, 7.98,0.57, 8.01,0.56, 8.04,0.55, 8.07,0.57, 8.10,0.56, 8.13,0.55, 8.16,0.57, 8.19,0.56, 8.22,0.55, 8.25,0.57, 8.28,0.56, 8.31,0.55, 8.34,0.57, 8.37,0.56, 8.40,0.55, 8.43,0.57, 8.46,0.56, 8.49,0.55, 8.52,0.57, 8.56,0.56, 8.62,0.55, 8.70,0.57, 8.74,0.55, 8.79,0.57,
  7.93,0.60, 7.96,0.61, 7.99,0.59, 8.02,0.60, 8.05,0.61, 8.08,0.59, 8.11,0.60, 8.14,0.61, 8.17,0.59, 8.20,0.60, 8.23,0.61, 8.26,0.59, 8.29,0.60, 8.32,0.61, 8.35,0.59, 8.38,0.60, 8.41,0.61, 8.44,0.59, 8.47,0.60, 8.50,0.61, 8.54,0.59, 8.60,0.61, 8.65,0.60, 8.71,0.61, 8.75,0.59,
  7.94,0.65, 7.97,0.64, 8.00,0.66, 8.03,0.65, 8.06,0.64, 8.09,0.66, 8.12,0.65, 8.15,0.64, 8.18,0.66, 8.21,0.65, 8.24,0.64, 8.27,0.66, 8.30,0.65, 8.33,0.64, 8.36,0.66, 8.39,0.65, 8.42,0.64, 8.45,0.66, 8.48,0.65, 8.52,0.64, 8.57,0.66, 8.63,0.65, 8.72,0.66, 8.76,0.64,
  7.92,0.69, 7.95,0.70, 7.98,0.68, 8.01,0.69, 8.04,0.70, 8.07,0.68, 8.10,0.69, 8.13,0.70, 8.16,0.68, 8.19,0.69, 8.22,0.70, 8.25,0.68, 8.28,0.69, 8.31,0.70, 8.34,0.68, 8.37,0.69, 8.40,0.70, 8.43,0.68, 8.46,0.69, 8.50,0.70, 8.55,0.68, 8.61,0.70, 8.71,0.69, 8.74,0.71,
  7.93,0.74, 7.96,0.73, 7.99,0.75, 8.13,0.74, 8.16,0.73, 8.19,0.75, 8.22,0.74, 8.25,0.73, 8.28,0.75, 8.31,0.74, 8.34,0.73, 8.37,0.75, 8.40,0.74, 8.43,0.73, 8.46,0.75, 8.49,0.74, 8.53,0.73, 8.58,0.75, 8.64,0.74, 8.70,0.76, 8.73,0.78,
  7.94,0.78, 7.97,0.79, 8.12,0.78, 8.15,0.79, 8.18,0.77, 8.21,0.78, 8.24,0.79, 8.27,0.77, 8.30,0.78, 8.33,0.79, 8.36,0.77, 8.39,0.78, 8.42,0.79, 8.45,0.77, 8.48,0.78, 8.51,0.79, 8.56,0.77, 8.62,0.79, 8.66,0.80, 8.69,0.81,
  7.90,0.82, 7.93,0.83, 8.13,0.83, 8.16,0.82, 8.19,0.84, 8.22,0.83, 8.25,0.82, 8.28,0.84, 8.31,0.83, 8.34,0.82, 8.37,0.84, 8.40,0.83, 8.43,0.82, 8.46,0.84, 8.50,0.83, 8.54,0.82, 8.60,0.84, 8.64,0.86,
  7.92,0.87, 8.12,0.87, 8.15,0.88, 8.18,0.86, 8.21,0.87, 8.24,0.88, 8.27,0.86, 8.30,0.87, 8.33,0.88, 8.36,0.86, 8.39,0.87, 8.42,0.88, 8.45,0.86, 8.48,0.87, 8.52,0.88, 8.57,0.87, 8.61,0.89,
  8.13,0.92, 8.16,0.91, 8.19,0.93, 8.22,0.92, 8.25,0.91, 8.28,0.93, 8.31,0.92, 8.34,0.91, 8.37,0.93, 8.40,0.92, 8.43,0.91, 8.46,0.93, 8.49,0.92, 8.53,0.91, 8.58,0.93,
  8.12,0.96, 8.15,0.97, 8.18,0.95, 8.21,0.96, 8.24,0.97, 8.27,0.95, 8.30,0.96, 8.33,0.97, 8.36,0.95, 8.39,0.96, 8.42,0.97, 8.45,0.95, 8.48,0.96, 8.51,0.98, 8.55,1.00,
  8.14,1.01, 8.17,1.00, 8.20,1.02, 8.23,1.01, 8.26,1.00, 8.29,1.02, 8.32,1.01, 8.35,1.00, 8.38,1.02, 8.41,1.01, 8.44,1.00, 8.47,1.02, 8.50,1.03, 8.54,1.05,
  8.16,1.05, 8.19,1.06, 8.22,1.04, 8.25,1.05, 8.28,1.06, 8.31,1.04, 8.34,1.05, 8.37,1.06, 8.40,1.04, 8.43,1.05, 8.46,1.07, 8.49,1.09, 8.55,1.09, 8.57,1.09,
  8.17,1.10, 8.20,1.09, 8.23,1.11, 8.26,1.10, 8.29,1.09, 8.32,1.11, 8.35,1.10, 8.38,1.09, 8.41,1.11, 8.44,1.12, 8.47,1.14,
  8.18,1.14, 8.21,1.15, 8.24,1.13, 8.27,1.14, 8.30,1.15, 8.33,1.13, 8.36,1.14, 8.39,1.15, 8.42,1.17, 8.45,1.19, 8.47,1.21,
  8.19,1.19, 8.22,1.18, 8.25,1.20, 8.28,1.19, 8.31,1.18, 8.34,1.20, 8.37,1.19, 8.40,1.22, 8.43,1.24,
  8.20,1.23, 8.23,1.24, 8.26,1.22, 8.29,1.23, 8.32,1.24, 8.35,1.22, 8.38,1.26, 8.41,1.28,
  8.19,1.28, 8.22,1.27, 8.25,1.29, 8.28,1.28, 8.31,1.27, 8.34,1.29, 8.37,1.30, 8.40,1.33,
  8.20,1.32, 8.23,1.33, 8.26,1.31, 8.29,1.32, 8.32,1.33, 8.35,1.35, 8.38,1.37,
  8.21,1.37, 8.24,1.36, 8.27,1.38, 8.30,1.37, 8.33,1.39, 8.36,1.41,
  8.22,1.41, 8.25,1.42, 8.28,1.44, 8.31,1.46, 8.34,1.50, 8.33,1.53, 8.35,1.48, 8.32,1.49,
  8.18,1.78, 8.20,1.80, 8.22,1.77, 8.21,1.74, 8.19,1.75, 8.23,1.60, 8.25,1.64, 8.24,1.52, 8.26,1.48, 8.29,1.56, 8.34,1.58, 8.37,1.62, 8.40,1.42,
  8.02,1.20, 8.05,1.28, 8.08,1.36, 7.86,0.98, 7.91,1.05, 7.96,0.92, 7.88,1.14, 7.98,1.20];
const scatterGroups = [ptsDO07, ptsDO14, ptsDO24, ptsDO33, ptsDO43, ptsDO52, ptsDO62, ptsDO68, ptsDO76, ptsDO86, ptsDO98, ptsDO106, ptsDO110, ptsDO115];

// dotted regions (pH, depth corners)
const acidBox = [6.8,0.4, 6.8,1.41, 7.4,1.41, 7.4,0.4, 6.8,0.4];
const alkBox = [8.4,0.4, 8.4,1.41, 9.0,1.41, 9.0,0.4, 8.4,0.4];

// ---------------- HELPERS ----------------
const FONT = '"Liberation Sans", Arial, Helvetica, sans-serif';
const TXT = '#262626';
Chart.defaults.font.family = FONT;
Chart.defaults.animation = false;

function jet(v) {
  const t = Math.min(1, Math.max(0, 1 - v / 12));
  const c = x => Math.round(255 * Math.min(1, Math.max(0, 1.5 - Math.abs(4 * t - x))));
  return 'rgb(' + c(3) + ',' + c(2) + ',' + c(1) + ')';
}
function toPoints(arr) {
  const out = [];
  for (let i = 0; i < arr.length; i += 2) out.push({ x: arr[i], y: arr[i + 1] });
  return out;
}
function mkAxis(o) {
  const vertical = o.position === 'left' || o.position === 'right';
  return {
    type: 'linear', display: true, position: o.position, min: o.min, max: o.max, offset: false,
    afterBuildTicks: s => { s.ticks = o.ticks.map(v => ({ value: v })); },
    afterFit: s => {
      if (vertical) s.width = o.size; else s.height = o.size;
      s.paddingTop = 0; s.paddingBottom = 0; s.paddingLeft = 0; s.paddingRight = 0;
    },
    grid: { display: true, drawOnChartArea: false, drawTicks: true, tickLength: -(o.tickLen || 23), color: '#000', lineWidth: 2.2, offset: false },
    border: { display: true, color: '#000', width: 2.6 },
    ticks: {
      display: !!o.labels, autoSkip: false, maxRotation: 0, minRotation: 0, padding: o.pad || 0,
      color: TXT, font: { family: FONT, size: 46 },
      callback: (v, i) => (o.labels ? o.labels[i] : '')
    },
    title: { display: !!o.title, text: o.title || '', color: TXT, font: { family: FONT, size: 54 }, padding: o.tpad || 0 }
  };
}
const baseOpts = { responsive: false, maintainAspectRatio: false, devicePixelRatio: 1, animation: false, events: [],
  layout: { padding: 0 }, plugins: { legend: { display: false }, tooltip: { enabled: false } } };

// ---------------- PANEL B ----------------
new Chart(document.getElementById('cB'), {
  type: 'bar',
  data: { datasets: [{
    data: depthBinLeft.map((d, i) => ({ y: d + 0.05, x: depthFreq[i] })),
    backgroundColor: '#646464', borderColor: '#000', borderWidth: 1.6, borderSkipped: false,
    barPercentage: 1, categoryPercentage: 1
  }] },
  options: Object.assign({}, baseOpts, {
    indexAxis: 'y',
    scales: {
      x: mkAxis({ position: 'bottom', min: 0, max: 800, ticks: freqBTicks, labels: freqBTickLabels, size: 186, pad: 54, title: 'Frequency', tpad: { top: 0, bottom: 16 } }),
      x2: mkAxis({ position: 'top', min: 0, max: 800, ticks: freqBTicks, size: 26 }),
      y: mkAxis({ position: 'left', min: 0.4, max: 2.4, ticks: depthTicks, labels: depthTickLabels, size: 193, pad: 48, title: 'Depth (m)', tpad: { top: 15, bottom: 0 } }),
      y2: mkAxis({ position: 'right', min: 0.4, max: 2.4, ticks: depthTicks, size: 48 })
    }
  })
});

// ---------------- PANEL A ----------------
const scatterSets = scatterGroups.map((pts, k) => ({
  type: 'scatter', data: toPoints(pts), showLine: false,
  pointStyle: 'circle', pointRadius: 14.5, pointBorderWidth: 3,
  pointBorderColor: jet(doClasses[k]), borderColor: jet(doClasses[k]),
  pointBackgroundColor: 'rgba(0,0,0,0)', backgroundColor: 'rgba(0,0,0,0)',
  order: 100 - k
}));
const boxSet = (pts, col) => ({
  type: 'line', data: toPoints(pts), showLine: true, borderColor: col, borderWidth: 17,
  borderDash: [16, 18], borderCapStyle: 'butt', borderJoinStyle: 'miter',
  pointRadius: 0, fill: false, tension: 0, order: 0
});
new Chart(document.getElementById('cA'), {
  type: 'scatter',
  data: { datasets: scatterSets.concat([boxSet(acidBox, '#0000ff'), boxSet(alkBox, '#ff0000')]) },
  options: Object.assign({}, baseOpts, {
    scales: {
      x: mkAxis({ position: 'bottom', min: 6.8, max: 9.0, ticks: phTicks, labels: phTickLabels, size: 187, pad: 58, title: 'pH', tpad: { top: 0, bottom: 15 } }),
      x2: mkAxis({ position: 'top', min: 6.8, max: 9.0, ticks: phTicks, size: 26 }),
      y: mkAxis({ position: 'left', min: 0.4, max: 2.4, ticks: depthTicks, labels: depthTickLabels, size: 220, pad: 48, title: 'Depth (m)', tpad: { top: 48, bottom: 0 } }),
      y2: mkAxis({ position: 'right', min: 0.4, max: 2.4, ticks: depthTicks, size: 48 })
    }
  })
});

// ---------------- COLORBAR ----------------
new Chart(document.getElementById('cBar'), {
  type: 'bar',
  data: { labels: ['DO'], datasets: [{
    data: [[doTicks[0], doTicks[doTicks.length - 1]]],
    backgroundColor: (ctx) => {
      const ch = ctx.chart, a = ch.chartArea;
      if (!a) return '#888';
      const g = ch.ctx.createLinearGradient(0, a.bottom, 0, a.top);
      for (let i = 0; i <= 64; i++) g.addColorStop(i / 64, jet(i / 64 * 12));
      return g;
    },
    borderColor: '#1a1a1a', borderWidth: 2, borderSkipped: false, barPercentage: 1, categoryPercentage: 1
  }] },
  options: Object.assign({}, baseOpts, {
    layout: { padding: { top: 23, bottom: 30, left: 0, right: 0 } },
    scales: {
      x: { type: 'category', display: false },
      y: mkAxis({ position: 'right', min: 0, max: 12, ticks: doTicks, labels: doTickLabels, size: 82, pad: 33, tickLen: 9 })
    }
  })
});

// ---------------- PANEL C ----------------
new Chart(document.getElementById('cC'), {
  type: 'bar',
  data: { datasets: [{
    data: phBinLeft.map((p, i) => ({ x: p + 0.025, y: phFreq[i] })),
    backgroundColor: '#646464', borderColor: '#000', borderWidth: 1.6, borderSkipped: false,
    barPercentage: 1, categoryPercentage: 1
  }] },
  options: Object.assign({}, baseOpts, {
    scales: {
      x: mkAxis({ position: 'bottom', min: 6.8, max: 9.0, ticks: phTicks, labels: phTickLabels, size: 173, pad: 54, title: 'pH', tpad: { top: 0, bottom: 8 } }),
      x2: mkAxis({ position: 'top', min: 6.8, max: 9.0, ticks: phTicks, size: 30 }),
      y: mkAxis({ position: 'left', min: 0, max: 500, ticks: freqCTicks, labels: freqCTickLabels, size: 220, pad: 46, title: 'Frequency', tpad: { top: 33, bottom: 0 } }),
      y2: mkAxis({ position: 'right', min: 0, max: 500, ticks: freqCTicks, size: 48 })
    }
  })
});
</script>
</body>
</html>
